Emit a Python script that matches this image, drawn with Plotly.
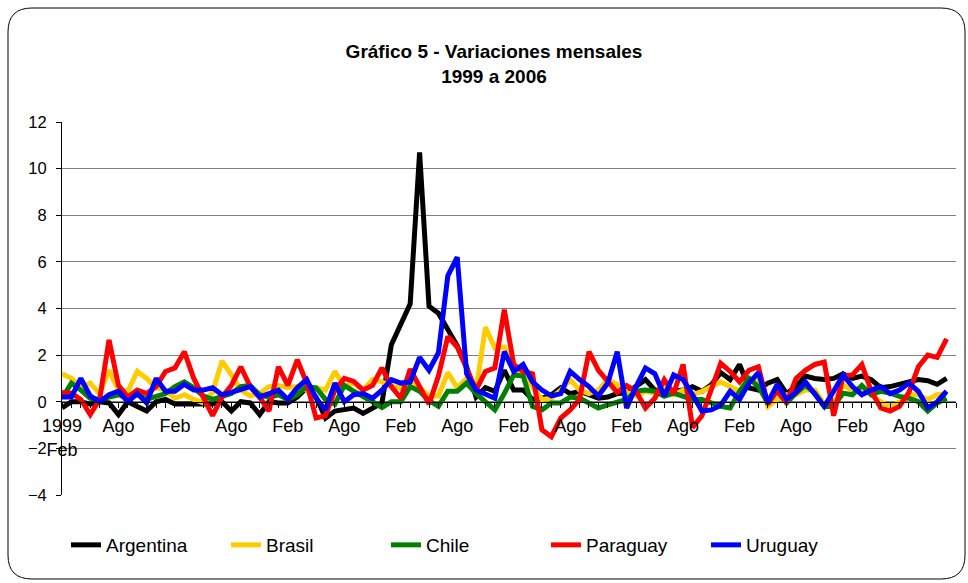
import plotly.graph_objects as go

# Monthly variations, Feb 1999 .. Dec 2006 (95 months)
month_idx = list(range(95))
tick_pos = list(range(0, 95, 6))
tick_text = ["1999<br>Feb"] + ["Ago", "Feb"] * 7 + ["Ago"]

argentina = [
    -0.27, 0.0, 0.0, -0.1, 0.0, -0.05, -0.55, 0.0, -0.2, -0.4, 0.0, 0.1,
    -0.1, -0.1, -0.1, -0.1, -0.1, 0.0, -0.4, 0.0, -0.05, -0.55, 0.0, -0.05,
    -0.05, 0.2, 0.6, 0.2, -0.7, -0.4, -0.35, -0.27, -0.5, -0.27, -0.05, 2.45,
    3.3, 4.2, 10.7, 4.1, 3.8, 3.15, 2.4, 1.5, 0.2, 0.6, 0.45, 1.35,
    0.5, 0.5, 0.1, 0.15, 0.3, 0.6, 0.35, 0.45, 0.3, 0.15, 0.2, 0.35,
    0.37, 0.65, 0.95, 0.5, 0.45, 0.45, 0.5, 0.65, 0.45, 0.73, 1.25, 0.95,
    1.6, 0.6, 0.5, 0.8, 0.95, 0.35, 0.65, 1.1, 1.0, 0.95, 1.0, 1.2,
    1.0, 1.1, 0.95, 0.6, 0.65, 0.75, 0.85, 0.95, 0.9, 0.75, 1.0,
]
brasil = [
    1.2, 1.0, 0.65, 0.8, 0.35, 1.35, 0.5, 0.45, 1.3, 1.0, 0.6, 0.5,
    0.15, 0.3, 0.1, -0.05, 0.4, 1.75, 1.15, 0.5, 0.25, 0.35, 0.65, 0.7,
    0.6, 0.65, 0.5, 0.6, 0.5, 1.3, 0.65, 0.8, 0.5, 0.95, 0.85, 0.65,
    0.6, 1.0, 0.6, 0.25, 0.25, 1.25, 0.6, 1.0, 0.5, 3.2, 2.3, 2.35,
    1.3, 1.15, 0.65, 0.1, 0.15, 0.5, 0.95, 0.5, 0.35, 0.5, 0.95, 0.75,
    0.4, 0.25, 0.45, 0.37, 0.6, 0.3, 0.5, 0.3, 0.45, 0.65, 0.85, 0.65,
    0.45, 1.0, 1.0, -0.2, 0.1, 0.3, 0.3, 0.5, 0.5, -0.1, -0.05, 0.7,
    0.5, 0.6, 0.3, 0.0, -0.2, 0.0, 0.3, 0.3, 0.1, 0.3, 0.35,
]
chile = [
    0.15, 0.8, 0.5, 0.15, 0.1, 0.2, 0.3, 0.15, 0.3, 0.1, 0.2, 0.35,
    0.65, 0.85, 0.6, 0.25, 0.1, 0.2, 0.35, 0.65, 0.7, 0.3, 0.2, 0.3,
    0.1, 0.3, 0.65, 0.6, 0.1, -0.1, 0.7, 0.45, 0.25, 0.0, -0.25, 0.0,
    0.0, 0.65, 0.45, 0.05, -0.2, 0.45, 0.45, 0.8, 0.35, 0.0, -0.35, 0.35,
    1.15, 1.1, -0.2, -0.35, -0.05, -0.05, 0.2, 0.15, -0.05, -0.27, -0.13, 0.0,
    0.1, 0.45, 0.5, 0.45, 0.23, 0.37, 0.23, 0.1, 0.1, -0.05, -0.2, -0.27,
    0.45, 1.0, 0.65, -0.05, 0.45, -0.05, 0.37, 0.7, 0.37, -0.2, -0.2, 0.37,
    0.3, 0.7, 0.3, 0.45, 0.37, 0.23, 0.15, 0.0, -0.4, -0.05, 0.15,
]
paraguay = [
    0.4, 0.37, 0.1, -0.55, 0.1, 2.65, 0.7, 0.2, 0.5, 0.35, 0.65, 1.3,
    1.45, 2.15, 1.0, 0.25, -0.6, 0.2, 0.7, 1.5, 0.65, 0.2, -0.4, 1.5,
    0.7, 1.8, 0.8, -0.7, -0.6, 0.5, 1.0, 0.87, 0.5, 0.7, 1.45, 0.65,
    0.15, 1.4, 0.6, -0.1, 1.1, 2.8, 2.35, 1.4, 0.5, 1.3, 1.45, 3.95,
    1.6, 1.3, 1.2, -1.2, -1.5, -0.7, -0.35, 0.1, 2.15, 1.35, 0.85, 0.4,
    0.7, 0.45, -0.27, 0.15, 0.95, 0.35, 1.6, -1.1, -0.6, 0.5, 1.65, 1.3,
    0.85, 1.35, 1.5, -0.1, 0.5, -0.05, 1.0, 1.35, 1.6, 1.7, -0.6, 1.1,
    1.15, 1.6, 0.45, -0.27, -0.4, -0.2, 0.4, 1.5, 2.0, 1.9, 2.7,
]
uruguay = [
    0.2, 0.2, 1.0, 0.25, 0.0, 0.3, 0.45, 0.0, 0.35, -0.05, 1.0, 0.45,
    0.45, 0.75, 0.5, 0.5, 0.6, 0.3, 0.4, 0.55, 0.65, 0.2, 0.35, 0.5,
    0.1, 0.6, 0.95, 0.15, -0.35, 0.8, 0.0, 0.3, 0.35, 0.15, 0.5, 0.95,
    0.8, 0.85, 1.9, 1.35, 2.1, 5.4, 6.2, 1.2, 0.5, 0.35, 0.15, 2.15,
    1.3, 1.6, 0.85, 0.5, 0.25, 0.35, 1.3, 0.95, 0.65, 0.25, 0.8, 2.15,
    -0.27, 0.65, 1.45, 1.2, 0.25, 1.15, 0.95, 0.3, -0.4, -0.35, -0.15, 0.45,
    0.1, 0.8, 1.25, -0.05, 0.75, 0.1, 0.4, 0.85, 0.3, -0.2, 0.45, 1.15,
    0.65, 0.3, 0.5, 0.65, 0.35, 0.5, 0.8, 0.45, -0.27, 0.0, 0.45,
]

series = [
    ("Argentina", argentina, "#000000"),
    ("Brasil", brasil, "#FFCC00"),
    ("Chile", chile, "#008000"),
    ("Paraguay", paraguay, "#FF0000"),
    ("Uruguay", uruguay, "#0000FF"),
]

FONT = "Liberation Sans, Arial, sans-serif"
W, H = 968, 583
L, R, T, B = 62, 12, 122, 88

fig = go.Figure()
for name, vals, color in series:
    fig.add_trace(go.Scatter(
        x=month_idx, y=vals, mode="lines", name=name,
        line=dict(color=color, width=5),
    ))


def to_paper(px, py):
    return (px - L) / (W - L - R), (H - B - py) / (H - T - B)


# rounded chart frame
x0, y0, x1, y1, r = 8, 8, 965, 579, 24
pts = [
    ("M", [(x0 + r, y0)]), ("L", [(x1 - r, y0)]), ("Q", [(x1, y0), (x1, y0 + r)]),
    ("L", [(x1, y1 - r)]), ("Q", [(x1, y1), (x1 - r, y1)]),
    ("L", [(x0 + r, y1)]), ("Q", [(x0, y1), (x0, y1 - r)]),
    ("L", [(x0, y0 + r)]), ("Q", [(x0, y0), (x0 + r, y0)]),
]
path = ""
for cmd, ps in pts:
    path += cmd + " ".join("%.4f,%.4f" % to_paper(*p) for p in ps) + " "
path += "Z"
fig.add_shape(type="path", path=path, xref="paper", yref="paper",
              line=dict(color="black", width=1))

lx, ly = to_paper(66, 545)
fig.update_layout(
    width=W, height=H,
    margin=dict(l=L, r=R, t=T, b=B),
    paper_bgcolor="white", plot_bgcolor="white",
    font=dict(family=FONT, size=16, color="black"),
    title=dict(
        text="<b>Gráfico 5 - Variaciones mensales</b><br><b>1999 a 2006</b>",
        x=to_paper(494, 0)[0], xref="paper", xanchor="center",
        y=1 - 58 / H, yref="container", yanchor="middle",
        font=dict(family=FONT, size=19, color="black"),
    ),
    xaxis=dict(
        range=[0, 95], anchor="free", position=0.25,
        showline=True, linecolor="black", linewidth=1,
        showgrid=False, zeroline=False,
        tickmode="array", tickvals=tick_pos, ticktext=tick_text,
        ticks="outside", ticklen=5, tickcolor="black",
        minor=dict(ticks="outside", ticklen=5, tickcolor="black",
                   dtick=1, tick0=0, showgrid=False),
        tickfont=dict(size=18), ticklabelstandoff=3,
    ),
    yaxis=dict(
        range=[-4, 12], dtick=2,
        showline=True, linecolor="black", linewidth=1,
        showgrid=True, gridcolor="#808080", gridwidth=1,
        zeroline=False, ticks="outside", ticklen=5, tickcolor="black",
        tickfont=dict(size=16.5), ticklabelstandoff=6,
    ),
    legend=dict(
        orientation="h", x=lx, y=ly, xanchor="left", yanchor="middle",
        font=dict(size=19), entrywidth=115, itemwidth=30,
        bgcolor="rgba(0,0,0,0)",
    ),
    showlegend=True,
)

fig.write_html("out.html", config={"displayModeBar": False},
               post_script="document.body.style.margin='0';")
